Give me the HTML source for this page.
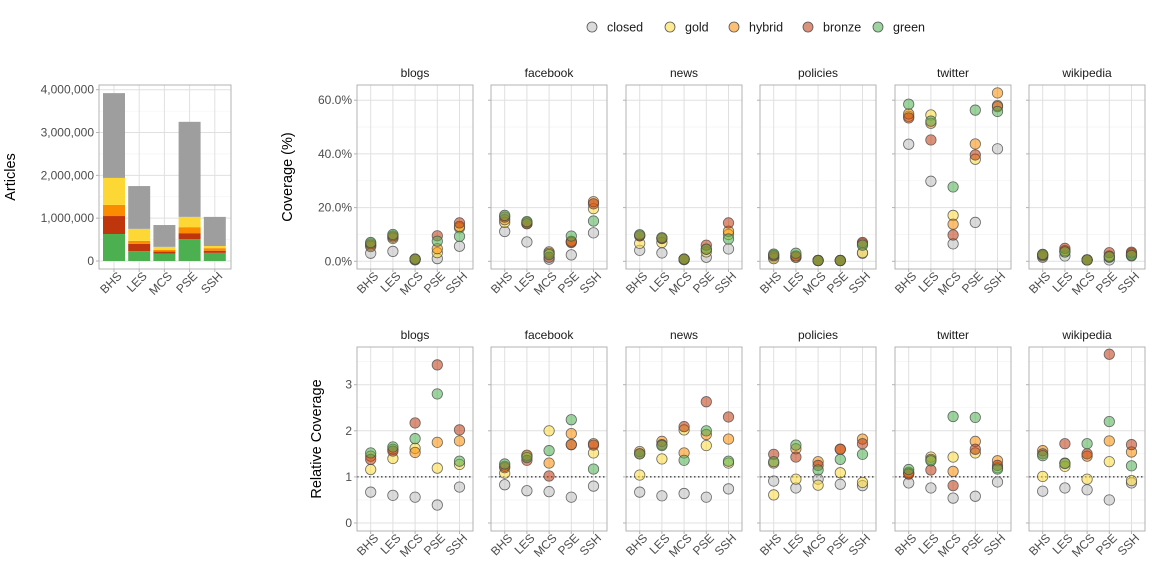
<!DOCTYPE html>
<html><head><meta charset="utf-8">
<style>
html,body{margin:0;padding:0;background:#fff;}
svg{display:block;font-family:"Liberation Sans",Arial,sans-serif;}
</style></head>
<body>
<svg id="chart" width="1152" height="576" viewBox="0 0 1152 576" xmlns="http://www.w3.org/2000/svg"></svg>
<script>
// ---- data ----
const categories = ["BHS","LES","MCS","PSE","SSH"];
const accessTypes = ["closed","gold","hybrid","bronze","green"];
const platforms = ["blogs","facebook","news","policies","twitter","wikipedia"];
// bar chart segments (millions), stacked bottom->top: green, bronze, hybrid, gold, closed
const barGreen  = [0.63,0.23,0.17,0.51,0.19];
const barBronze = [0.42,0.17,0.05,0.14,0.05];
const barHybrid = [0.26,0.07,0.04,0.14,0.06];
const barGold   = [0.63,0.28,0.07,0.24,0.05];
const barClosed = [1.98,1.00,0.51,2.22,0.68];
const barTicks = [0,1000000,2000000,3000000,4000000];
const barTickLabels = ["0","1,000,000","2,000,000","3,000,000","4,000,000"];
// coverage (%) [platform][category] per access type
const covClosed = [[3.0,3.7,0.5,1.0,5.6],[11.1,7.2,0.8,2.4,10.6],[4.1,3.1,0.6,1.5,4.6],[1.5,1.5,0.3,0.3,3.0],[43.6,29.8,6.5,14.5,41.9],[1.5,2.0,0.5,0.5,2.0]];
const covGold   = [[5.5,8.5,0.8,3.2,12.5],[14.5,14.0,3.5,7.0,19.6],[6.7,7.0,0.8,3.5,10.0],[1.0,1.5,0.3,0.3,3.2],[54.0,54.5,17.1,38.0,58.0],[2.0,3.5,0.5,1.5,2.5]];
const covHybrid = [[6.0,9.0,0.8,4.7,13.0],[15.5,14.5,3.0,7.5,22.2],[9.5,8.5,0.8,4.5,11.2],[2.0,2.0,0.3,0.3,6.5],[54.9,51.4,13.8,43.7,62.7],[2.3,4.0,0.5,2.0,3.0]];
const covBronze = [[6.5,9.5,0.8,9.5,14.3],[16.5,14.0,1.5,7.2,21.4],[9.5,8.5,0.8,6.0,14.3],[2.3,2.0,0.3,0.3,7.0],[53.4,45.2,9.8,39.6,57.6],[2.5,4.8,0.5,3.2,3.4]];
const covGreen  = [[7.0,10.0,0.8,7.5,9.3],[17.1,14.8,2.5,9.4,15.0],[9.9,8.8,0.8,4.5,8.3],[2.7,3.0,0.3,0.3,6.0],[58.5,52.2,27.7,56.3,55.8],[2.6,3.5,0.5,1.7,2.2]];
// relative coverage
const relClosed = [[0.67,0.60,0.56,0.39,0.78],[0.83,0.70,0.68,0.56,0.80],[0.67,0.59,0.64,0.56,0.74],[0.91,0.76,0.95,0.84,0.81],[0.87,0.76,0.54,0.58,0.89],[0.69,0.76,0.72,0.50,0.87]];
const relGold   = [[1.16,1.40,1.62,1.19,1.27],[1.08,1.45,2.00,1.70,1.52],[1.04,1.39,2.02,1.68,1.30],[0.61,0.95,0.82,1.09,0.88],[1.10,1.43,1.43,1.52,1.20],[1.01,1.23,0.95,1.33,0.92]];
const relHybrid = [[1.45,1.60,1.53,1.75,1.78],[1.20,1.47,1.30,1.94,1.72],[1.55,1.77,1.52,1.92,1.82],[1.30,1.61,1.33,1.60,1.82],[1.08,1.38,1.12,1.77,1.35],[1.57,1.30,1.45,1.78,1.54]];
const relBronze = [[1.38,1.56,2.17,3.43,2.02],[1.23,1.36,1.02,1.70,1.69],[1.50,1.70,2.09,2.63,2.30],[1.49,1.43,1.25,1.60,1.72],[1.06,1.15,0.81,1.60,1.25],[1.50,1.72,1.50,3.66,1.70]];
const relGreen  = [[1.52,1.65,1.83,2.80,1.34],[1.28,1.42,1.57,2.24,1.17],[1.50,1.68,1.36,2.00,1.34],[1.33,1.69,1.15,1.38,1.49],[1.16,1.35,2.31,2.29,1.17],[1.46,1.29,1.72,2.20,1.24]];
const covTicks = [0,20,40,60];
const covTickLabels = ["0.0%","20.0%","40.0%","60.0%"];
const relTicks = [0,1,2,3];
const relTickLabels = ["0","1","2","3"];

// ---- rendering ----
const NS="http://www.w3.org/2000/svg";
const svg=document.getElementById("chart");
const fill={closed:"#bdbdbd",gold:"#fdd835",hybrid:"#fb8c00",bronze:"#bf360c",green:"#4caf50"};
const barFill={closed:"#9e9e9e",gold:"#fdd835",hybrid:"#fb8c00",bronze:"#bf360c",green:"#4caf50"};
function mk(tag,attrs,parent){const e=document.createElementNS(NS,tag);for(const k in attrs)e.setAttribute(k,attrs[k]);(parent||svg).appendChild(e);return e;}
function txt(s,attrs,parent){const e=mk("text",attrs,parent);e.textContent=s;return e;}

// legend
const legX=[592,670,734,808,878];
accessTypes.forEach((t,i)=>{
  const g=mk("g",{});
  
  
  mk("circle",{cx:legX[i],cy:27,r:5,fill:fill[t],"fill-opacity":0.55,stroke:"#555","stroke-width":0.8},g);
  txt(t,{x:legX[i]+15,y:31.5,"font-size":12.5,fill:"#1a1a1a"},g);
});

function xTickLabels(g,xs,yBase){
  categories.forEach((c,i)=>{
    const t=txt(c,{x:xs(i),y:yBase,"font-size":12,fill:"#4d4d4d","text-anchor":"end",transform:`rotate(-45 ${xs(i)} ${yBase})`,dx:4,dy:8},g);
    
    
  });
}

// bar chart
(function(){
  const g=mk("g",{});
  
  
  const L=99,R=231,T=85,B=269;
  const y=v=>261-v/4000000*(261-89.7);
  const xs=i=>114+i*25.2;
  for(let v=500000;v<4500000;v+=1000000) mk("line",{x1:L,x2:R,y1:y(v),y2:y(v),stroke:"#f2f2f2","stroke-width":0.6},g);
  barTicks.forEach(v=>mk("line",{x1:L,x2:R,y1:y(v),y2:y(v),stroke:"#e0e0e0","stroke-width":1},g));
  categories.forEach((c,i)=>mk("line",{x1:xs(i),x2:xs(i),y1:T,y2:B,stroke:"#e0e0e0"},g));
  const stacks=[["green",barGreen],["bronze",barBronze],["hybrid",barHybrid],["gold",barGold],["closed",barClosed]];
  categories.forEach((c,i)=>{
    let base=0;
    stacks.forEach(([t,arr])=>{
      const v=arr[i]*1000000;
      const r=mk("rect",{x:xs(i)-11,y:y(base+v),width:22,height:y(base)-y(base+v),fill:barFill[t]},g);
      
      
      base+=v;
    });
  });
  mk("rect",{x:L,y:T,width:R-L,height:B-T,fill:"none",stroke:"#b3b3b3"},g);
  barTicks.forEach((v,i)=>{
    mk("line",{x1:L-3,x2:L,y1:y(v),y2:y(v),stroke:"#b3b3b3"},g);
    txt(barTickLabels[i],{x:L-5,y:y(v)+4,"font-size":12,fill:"#4d4d4d","text-anchor":"end"},g);
  });
  categories.forEach((c,i)=>mk("line",{x1:xs(i),x2:xs(i),y1:B,y2:B+3,stroke:"#b3b3b3"},g));
  xTickLabels(g,xs,B+5);
  const t=txt("Articles",{x:15,y:177,"font-size":14.5,fill:"#000","text-anchor":"middle",transform:"rotate(-90 15 177)"},g);
  
  
})();

const panelX=[357,491,626,760,895,1029];
const PW=116;
function facetRow(rowName,T,B,yfun,ticks,tickLabels,minor,series,dotLine,title,titleX){
  platforms.forEach((p,pi)=>{
    const g=mk("g",{});
    
    
    const L=panelX[pi],R=L+PW;
    const xs=i=>L+13.7+i*22.2;
    minor.forEach(v=>mk("line",{x1:L,x2:R,y1:yfun(v),y2:yfun(v),stroke:"#f0f0f0","stroke-width":0.6},g));
    ticks.forEach(v=>mk("line",{x1:L,x2:R,y1:yfun(v),y2:yfun(v),stroke:"#e0e0e0"},g));
    categories.forEach((c,i)=>mk("line",{x1:xs(i),x2:xs(i),y1:T,y2:B,stroke:"#e0e0e0"},g));
    if(dotLine) mk("line",{x1:L,x2:R,y1:yfun(1),y2:yfun(1),stroke:"#000","stroke-width":1,"stroke-dasharray":"1.5,2.5"},g);
    series.forEach(([t,arr])=>{
      categories.forEach((c,i)=>{
        const cc=mk("circle",{cx:xs(i),cy:yfun(arr[pi][i]),r:5.2,fill:fill[t],"fill-opacity":0.55,stroke:"#4a4a4a","stroke-opacity":0.8,"stroke-width":0.8},g);
        
        
      });
    });
    mk("rect",{x:L,y:T,width:PW,height:B-T,fill:"none",stroke:"#b3b3b3"},g);
    const st=txt(p,{x:L+PW/2,y:T-8,"font-size":12,fill:"#1a1a1a","text-anchor":"middle"},g);
    
    
    categories.forEach((c,i)=>mk("line",{x1:xs(i),x2:xs(i),y1:B,y2:B+3,stroke:"#b3b3b3"},g));
    xTickLabels(g,xs,B+5);
    if(pi===0){
      ticks.forEach((v,i)=>{
        mk("line",{x1:L-3,x2:L,y1:yfun(v),y2:yfun(v),stroke:"#b3b3b3"},g);
        txt(tickLabels[i],{x:L-5,y:yfun(v)+4,"font-size":12,fill:"#4d4d4d","text-anchor":"end"},g);
      });
    } else {
      ticks.forEach(v=>mk("line",{x1:L-3,x2:L,y1:yfun(v),y2:yfun(v),stroke:"#b3b3b3"},g));
    }
  });
  const cy=(T+B)/2;
  const t=txt(title,{x:titleX,y:cy,"font-size":14.5,fill:"#000","text-anchor":"middle",transform:`rotate(-90 ${titleX} ${cy})`});
  
  
}
facetRow("coverage",85,269,v=>261.3-v*2.685,covTicks,covTickLabels,[10,30,50],
  [["closed",covClosed],["gold",covGold],["hybrid",covHybrid],["bronze",covBronze],["green",covGreen]],false,"Coverage (%)",292);
facetRow("relative",347,531,v=>523-v*46.1,relTicks,relTickLabels,[0.5,1.5,2.5,3.5],
  [["closed",relClosed],["gold",relGold],["hybrid",relHybrid],["bronze",relBronze],["green",relGreen]],true,"Relative Coverage",321);
</script>
</body></html>
